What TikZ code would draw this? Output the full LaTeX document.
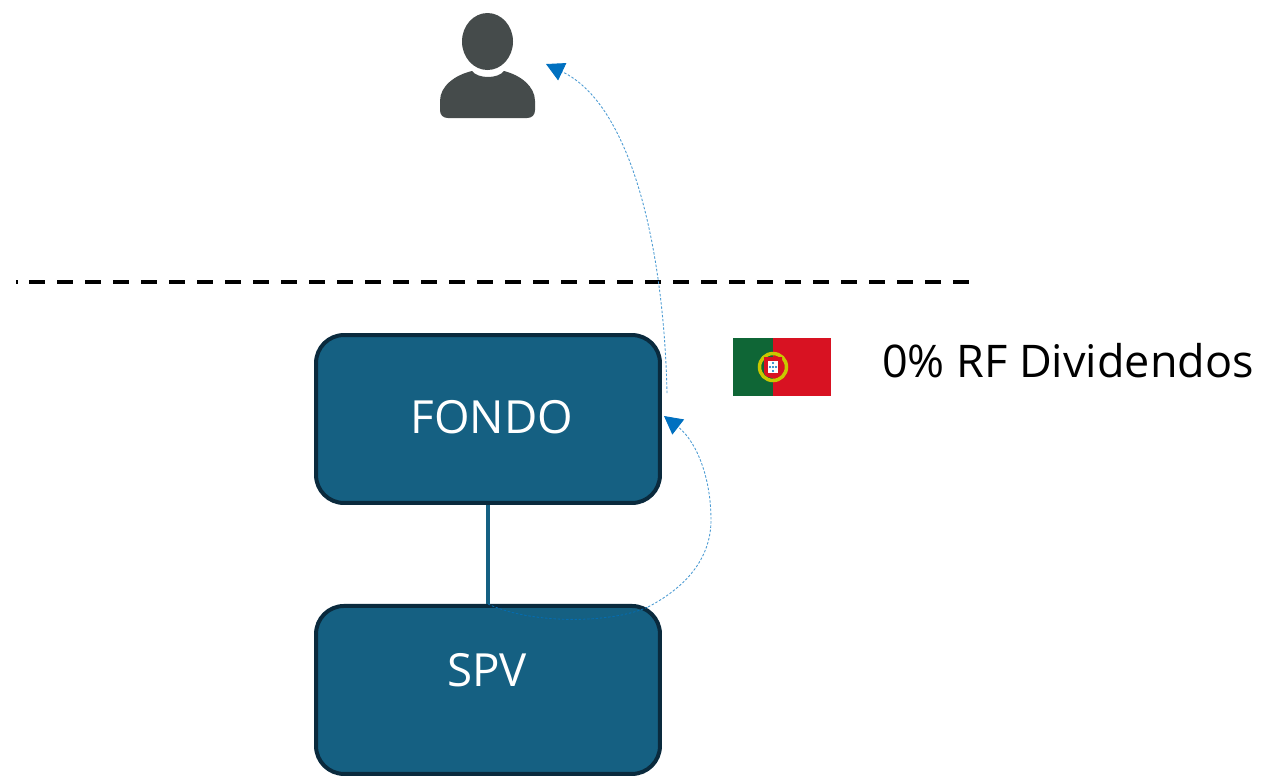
\documentclass[tikz,border=0pt]{standalone}
\usepackage{fontspec}
\setmainfont{Open Sans}
\usepackage{tikz}
\usetikzlibrary{arrows.meta}
\definecolor{boxblue}{HTML}{156082}
\definecolor{boxedge}{HTML}{0A2A3D}
\definecolor{flowblue}{HTML}{0070C0}
\definecolor{persongray}{HTML}{454B4B}
\definecolor{flaggreen}{HTML}{0F6636}
\definecolor{flagred}{HTML}{D81222}
\definecolor{flagyellow}{HTML}{C8C800}

\begin{document}
\begin{tikzpicture}[
            x = 0.02cm, % one unit is one pixel of the reference
            y = -0.02cm,
            > = {Triangle[length=0.36cm, width=0.38cm, flowblue]}, % arrow head style
            node distance = 5.42cm % distance between boxes
        ]
        \tikzstyle{entity}=[
            draw = boxedge,
            line width = 0.08cm,
            fill = boxblue,
            rounded corners = 0.56cm,
            minimum width = 6.88cm,
            minimum height = 3.36cm
        ]
        \tikzstyle{boxtext}=[
            text = white,
            font = \fontsize{26}{31}\selectfont
        ]
        \tikzstyle{flow}=[
            flowblue!70!white,
            line width = 0.5pt,
            dash pattern = on 1.4pt off 1pt
        ]
        \useasboundingbox (0,0) rectangle (1269,779);

        % boxes
        \node[entity] (fondo) at (488,419) {};
        \node[entity] (spv)[below of=fondo] {};
        \node[boxtext] (fondotext) at (492,417) {FONDO};
        \node[boxtext] (spvtext) at (487,670) {SPV};
        \draw[boxblue, line width = 0.08cm] (fondo.south) -- (spv.north);

        % border line
        \coordinate (borderleft) at (16,282);
        \coordinate (borderright) at (969,282);
        \draw[line width = 0.08cm, dash pattern = on 0.32cm off 0.24cm, dash phase = 0.29cm] (borderleft) -- (borderright);

        % person
        \fill[persongray] (487.5,41.5) ellipse [x radius=25.5, y radius=28.5];
        \fill[persongray] (448,118) .. controls (443,118) and (440,115) .. (440,110)
            -- (440,101) .. controls (440,86) and (455,75) .. (472,71)
            .. controls (478,79) and (498,79) .. (504,71)
            .. controls (520,75) and (535,86) .. (535,101)
            -- (535,110) .. controls (535,115) and (532,118) .. (527,118) -- cycle;

        % flag
        \fill[flaggreen] (733,338) rectangle (773,396);
        \fill[flagred] (773,338) rectangle (831,396);
        \draw[flagyellow, line width = 0.07cm] (773,367) circle (13.5);
        \fill[flagred] (764,357) -- (782,357) -- (782,372) .. controls (782,376) and (777,378) .. (773,378)
            .. controls (769,378) and (764,376) .. (764,372) -- cycle;
        \fill[white] (768,361) rectangle (778,373);
        \foreach \dotx/\doty in {773/363, 770/367, 773/367, 776/367, 773/371}
            \fill[flowblue] (\dotx,\doty) circle (1.2);

        \node[font = \fontsize{25.6}{31}\selectfont] (rate) at (1068,361) {0\% RF Dividendos};

        % flows
        \coordinate (persontip) at (546,64);
        \coordinate (fondotop) at (667,393);
        \coordinate (fondotip) at (664,416);
        \coordinate (spvexit) at (648,607);
        \draw[flow, ->] (fondotop) .. controls (664,250) and (632,105) .. (persontip);
        \draw[flow, flowblue!75!boxblue] (spv.north) .. controls (530,624) and (610,624) .. (spvexit);
        \draw[flow, ->] (spvexit) .. controls (690,585) and (711,555) .. (711,520)
            .. controls (711,475) and (695,440) .. (fondotip);
    \end{tikzpicture}
\end{document}
